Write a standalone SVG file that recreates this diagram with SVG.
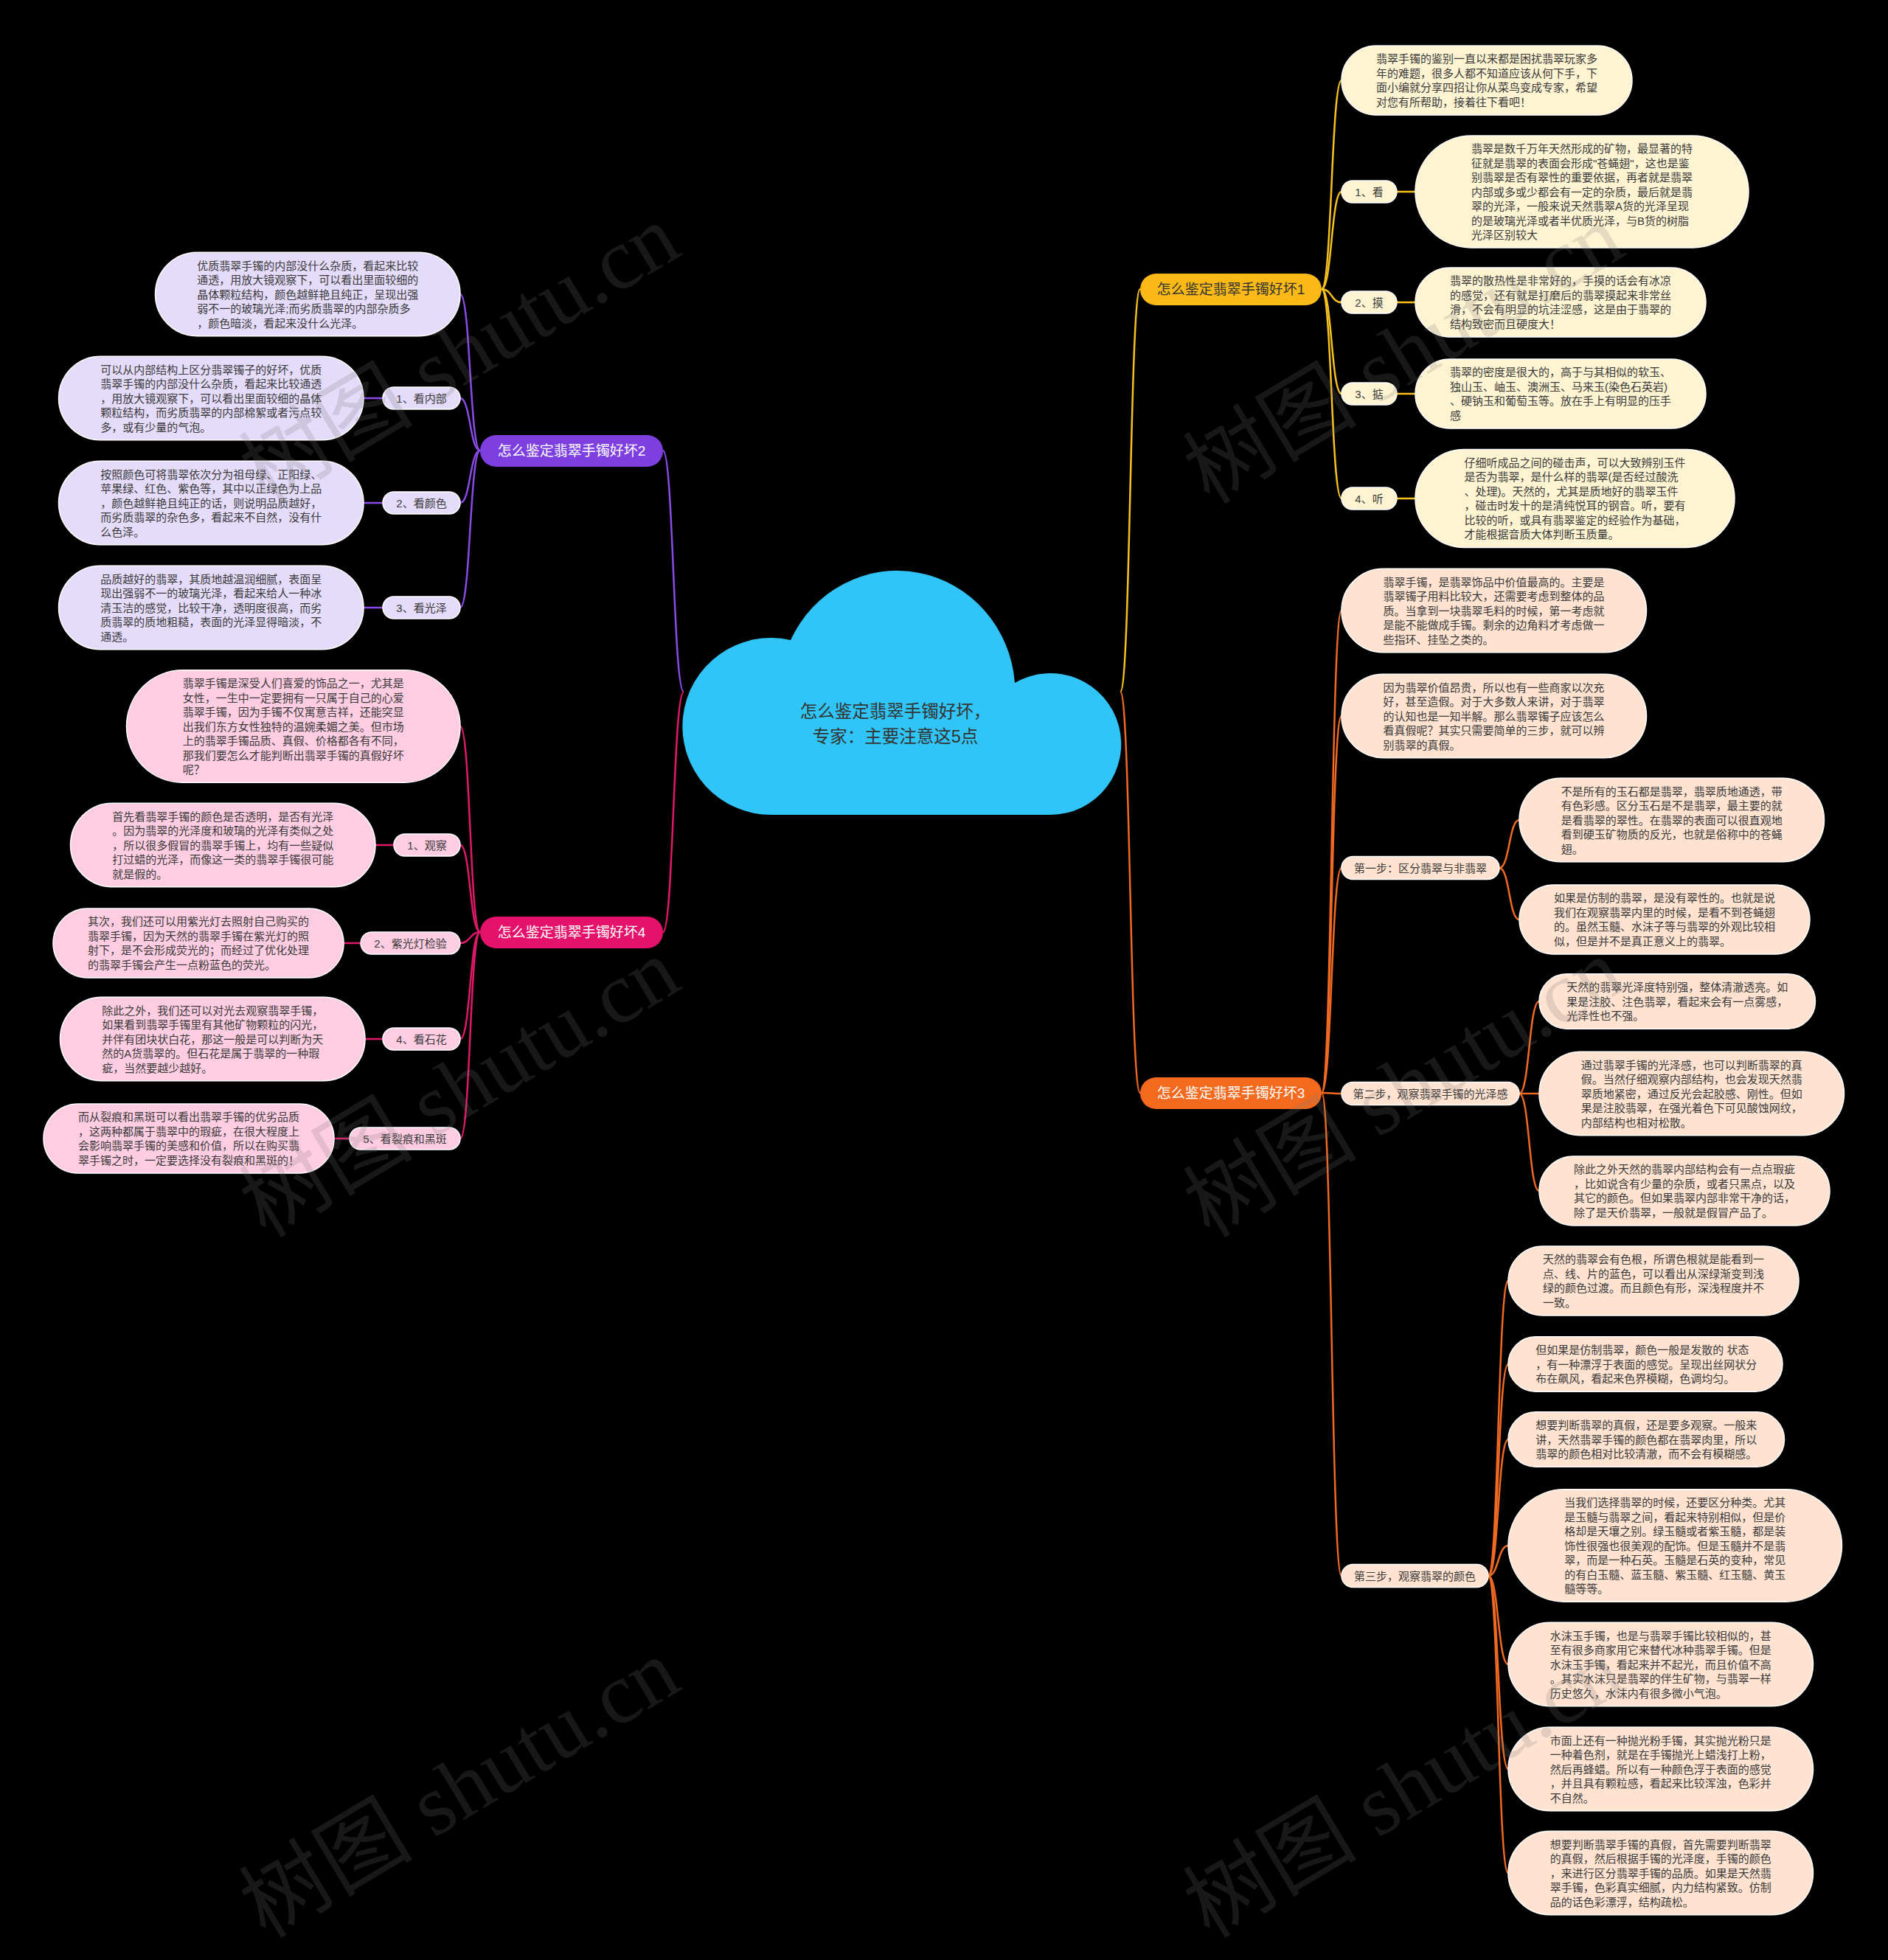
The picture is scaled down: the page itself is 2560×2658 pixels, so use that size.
<svg xmlns="http://www.w3.org/2000/svg" width="2560" height="2658" viewBox="0 0 2560 2658">
<style>
text{font-family:"Liberation Sans","Noto Sans CJK SC",sans-serif}
.t{font-size:15px;fill:#3a3a3a}
.m{text-anchor:middle}
.nt{font-size:19px;text-anchor:middle}
.b1{fill:#FFF4D2;stroke:#fff;stroke-width:1.5}
.b2{fill:#E5DBFA;stroke:#fff;stroke-width:1.5}
.b3{fill:#FFE2D0;stroke:#fff;stroke-width:1.5}
.b4{fill:#FFCDE2;stroke:#fff;stroke-width:1.5}
.k1{fill:none;stroke:#F7C21E;stroke-width:2.5}
.k2{fill:none;stroke:#8A4AE6;stroke-width:2.5}
.k3{fill:none;stroke:#F06A22;stroke-width:2.5}
.k4{fill:none;stroke:#E0196A;stroke-width:2.5}
.wm{font-family:"Liberation Serif","Noto Sans CJK SC",serif;font-size:118px;fill:#787878;opacity:0.2}
</style>
<rect width="2560" height="2658" fill="#000"/>

<g id="connectors">
<path class="k1" d="M1519 938 C1533 938 1532 392 1546 392"/>
<path class="k3" d="M1519 938 C1533 938 1532 1482 1546 1482"/>
<path class="k2" d="M927 938 C913 938 913 611 899 611"/>
<path class="k4" d="M927 938 C913 938 913 1264 899 1264"/>
<path class="k1" d="M1792 392 C1806 392 1805 109 1819 109"/>
<path class="k1" d="M1792 392 C1806 392 1805 260 1819 260"/>
<path class="k1" d="M1792 392 C1806 392 1805 410 1819 410"/>
<path class="k1" d="M1792 392 C1806 392 1805 534 1819 534"/>
<path class="k1" d="M1792 392 C1806 392 1805 676 1819 676"/>
<path class="k1" d="M1894 260 H1919 M1894 410 H1919 M1894 534 H1919 M1894 676 H1919"/>
<path class="k3" d="M1792 1482 C1806 1482 1805 828 1819 828"/>
<path class="k3" d="M1792 1482 C1806 1482 1805 971 1819 971"/>
<path class="k3" d="M1792 1482 C1806 1482 1805 1177 1819 1177"/>
<path class="k3" d="M1792 1482 C1806 1482 1805 1483 1819 1483"/>
<path class="k3" d="M1792 1482 C1806 1482 1805 2137 1819 2137"/>
<path class="k3" d="M2033 1177 C2047 1177 2046 1112 2060 1112"/>
<path class="k3" d="M2033 1177 C2047 1177 2046 1247 2060 1247"/>
<path class="k3" d="M2060 1483 C2074 1483 2073 1358 2087 1358"/>
<path class="k3" d="M2060 1483 C2074 1483 2073 1483 2087 1483"/>
<path class="k3" d="M2060 1483 C2074 1483 2073 1615 2087 1615"/>
<path class="k3" d="M2018 2137 C2032 2137 2031 1737 2045 1737"/>
<path class="k3" d="M2018 2137 C2032 2137 2031 1850 2045 1850"/>
<path class="k3" d="M2018 2137 C2032 2137 2031 1952 2045 1952"/>
<path class="k3" d="M2018 2137 C2032 2137 2031 2096 2045 2096"/>
<path class="k3" d="M2018 2137 C2032 2137 2031 2257 2045 2257"/>
<path class="k3" d="M2018 2137 C2032 2137 2031 2399 2045 2399"/>
<path class="k3" d="M2018 2137 C2032 2137 2031 2540 2045 2540"/>
<path class="k2" d="M651 611 C637 611 638 399 624 399"/>
<path class="k2" d="M651 611 C637 611 638 540 624 540"/>
<path class="k2" d="M651 611 C637 611 638 682 624 682"/>
<path class="k2" d="M651 611 C637 611 638 824 624 824"/>
<path class="k2" d="M519 540 H493 M519 682 H493 M519 824 H493"/>
<path class="k4" d="M651 1264 C637 1264 638 985 624 985"/>
<path class="k4" d="M651 1264 C637 1264 638 1146 624 1146"/>
<path class="k4" d="M651 1264 C637 1264 638 1279 624 1279"/>
<path class="k4" d="M651 1264 C637 1264 638 1409 624 1409"/>
<path class="k4" d="M651 1264 C637 1264 638 1544 624 1544"/>
<path class="k4" d="M534 1146 H509 M489 1279 H466 M519 1409 H495 M474 1544 H453"/>
</g>

<g id="root">
<path d="M1047 1105 A120 120 0 1 1 1072 868 A160 165 0 0 1 1376 926 A96 96 0 1 1 1424 1105 Z" fill="#30C5F6"/>
<text x="1214" y="973" style="font-size:23.5px;fill:#333" class="m">怎么鉴定翡翠手镯好坏，</text>
<text x="1214" y="1007" style="font-size:23.5px;fill:#333" class="m">专家：主要注意这5点</text>
</g>

<g id="n1">
<rect x="1546" y="371" width="246" height="43" rx="21.5" fill="#FBB917"/>
<text x="1669" y="399" class="nt" fill="#333">怎么鉴定翡翠手镯好坏1</text>
</g>
<g id="n2">
<rect x="651" y="590" width="248" height="43" rx="21.5" fill="#7E3FE0"/>
<text x="775" y="618" class="nt" fill="#fff">怎么鉴定翡翠手镯好坏2</text>
</g>
<g id="n3">
<rect x="1546" y="1461" width="246" height="43" rx="21.5" fill="#F36A1E"/>
<text x="1669" y="1489" class="nt" fill="#fff">怎么鉴定翡翠手镯好坏3</text>
</g>
<g id="n4">
<rect x="651" y="1243" width="248" height="43" rx="21.5" fill="#E5126B"/>
<text x="775" y="1271" class="nt" fill="#fff">怎么鉴定翡翠手镯好坏4</text>
</g>

<!-- Branch 1 -->
<g id="n1a">
<rect class="b1" x="1819" y="62" width="394" height="94" rx="47"/>
<text class="t"><tspan x="1866" y="85.25">翡翠手镯的鉴别一直以来都是困扰翡翠玩家多</tspan><tspan x="1866" y="104.75">年的难题，很多人都不知道应该从何下手，下</tspan><tspan x="1866" y="124.25">面小编就分享四招让你从菜鸟变成专家，希望</tspan><tspan x="1866" y="143.75">对您有所帮助，接着往下看吧！</tspan></text>
</g>
<g id="n1b">
<rect class="b1" x="1819" y="245" width="75" height="30" rx="15"/>
<text class="t m" x="1856.5" y="265.5">1、看</text>
</g>
<g id="n1b1">
<rect class="b1" x="1919" y="184" width="452" height="152" rx="76"/>
<text class="t"><tspan x="1995" y="207.25">翡翠是数千万年天然形成的矿物，最显著的特</tspan><tspan x="1995" y="226.75">征就是翡翠的表面会形成"苍蝇翅"，这也是鉴</tspan><tspan x="1995" y="246.25">别翡翠是否有翠性的重要依据，再者就是翡翠</tspan><tspan x="1995" y="265.75">内部或多或少都会有一定的杂质，最后就是翡</tspan><tspan x="1995" y="285.25">翠的光泽，一般来说天然翡翠A货的光泽呈现</tspan><tspan x="1995" y="304.75">的是玻璃光泽或者半优质光泽，与B货的树脂</tspan><tspan x="1995" y="324.25">光泽区别较大</tspan></text>
</g>
<g id="n1c">
<rect class="b1" x="1819" y="395" width="75" height="30" rx="15"/>
<text class="t m" x="1856.5" y="415.5">2、摸</text>
</g>
<g id="n1c1">
<rect class="b1" x="1919" y="363" width="394" height="94" rx="47"/>
<text class="t"><tspan x="1966" y="386.25">翡翠的散热性是非常好的，手摸的话会有冰凉</tspan><tspan x="1966" y="405.75">的感觉，还有就是打磨后的翡翠摸起来非常丝</tspan><tspan x="1966" y="425.25">滑，不会有明显的坑洼涩感，这是由于翡翠的</tspan><tspan x="1966" y="444.75">结构致密而且硬度大！</tspan></text>
</g>
<g id="n1d">
<rect class="b1" x="1819" y="519" width="75" height="30" rx="15"/>
<text class="t m" x="1856.5" y="539.5">3、掂</text>
</g>
<g id="n1d1">
<rect class="b1" x="1919" y="487" width="394" height="94" rx="47"/>
<text class="t"><tspan x="1966" y="510.25">翡翠的密度是很大的，高于与其相似的软玉、</tspan><tspan x="1966" y="529.75">独山玉、岫玉、澳洲玉、马来玉(染色石英岩)</tspan><tspan x="1966" y="549.25">、硬钠玉和葡萄玉等。放在手上有明显的压手</tspan><tspan x="1966" y="568.75">感</tspan></text>
</g>
<g id="n1e">
<rect class="b1" x="1819" y="661" width="75" height="30" rx="15"/>
<text class="t m" x="1856.5" y="681.5">4、听</text>
</g>
<g id="n1e1">
<rect class="b1" x="1919" y="609.5" width="433" height="133" rx="66.5"/>
<text class="t"><tspan x="1985.5" y="632.75">仔细听成品之间的碰击声，可以大致辨别玉件</tspan><tspan x="1985.5" y="652.25">是否为翡翠，是什么样的翡翠(是否经过酸洗</tspan><tspan x="1985.5" y="671.75">、处理)。天然的，尤其是质地好的翡翠玉件</tspan><tspan x="1985.5" y="691.25">，碰击时发十的是清纯悦耳的钢音。听，要有</tspan><tspan x="1985.5" y="710.75">比较的听，或具有翡翠鉴定的经验作为基础，</tspan><tspan x="1985.5" y="730.25">才能根据音质大体判断玉质量。</tspan></text>
</g>

<!-- Branch 3 -->
<g id="n3a">
<rect class="b3" x="1819" y="771.25" width="413.5" height="113.5" rx="56.75"/>
<text class="t"><tspan x="1875.5" y="794.5">翡翠手镯，是翡翠饰品中价值最高的。主要是</tspan><tspan x="1875.5" y="814">翡翠镯子用料比较大，还需要考虑到整体的品</tspan><tspan x="1875.5" y="833.5">质。当拿到一块翡翠毛料的时候，第一考虑就</tspan><tspan x="1875.5" y="853">是能不能做成手镯。剩余的边角料才考虑做一</tspan><tspan x="1875.5" y="872.5">些指环、挂坠之类的。</tspan></text>
</g>
<g id="n3b">
<rect class="b3" x="1819" y="914.25" width="413.5" height="113.5" rx="56.75"/>
<text class="t"><tspan x="1875.5" y="937.5">因为翡翠价值昂贵，所以也有一些商家以次充</tspan><tspan x="1875.5" y="957">好，甚至造假。对于大多数人来讲，对于翡翠</tspan><tspan x="1875.5" y="976.5">的认知也是一知半解。那么翡翠镯子应该怎么</tspan><tspan x="1875.5" y="996">看真假呢？其实只需要简单的三步，就可以辨</tspan><tspan x="1875.5" y="1015.5">别翡翠的真假。</tspan></text>
</g>
<g id="n3c">
<rect class="b3" x="1819" y="1161.5" width="214" height="31" rx="15.5"/>
<text class="t m" x="1926" y="1182.5">第一步：区分翡翠与非翡翠</text>
</g>
<g id="n3c1">
<rect class="b3" x="2060" y="1055.25" width="413.5" height="113.5" rx="56.75"/>
<text class="t"><tspan x="2116.75" y="1078.5">不是所有的玉石都是翡翠，翡翠质地通透，带</tspan><tspan x="2116.75" y="1098">有色彩感。区分玉石是不是翡翠，最主要的就</tspan><tspan x="2116.75" y="1117.5">是看翡翠的翠性。在翡翠的表面可以很直观地</tspan><tspan x="2116.75" y="1137">看到硬玉矿物质的反光，也就是俗称中的苍蝇</tspan><tspan x="2116.75" y="1156.5">翅。</tspan></text>
</g>
<g id="n3c2">
<rect class="b3" x="2060" y="1200" width="394" height="94" rx="47"/>
<text class="t"><tspan x="2107" y="1223.25">如果是仿制的翡翠，是没有翠性的。也就是说</tspan><tspan x="2107" y="1242.75">我们在观察翡翠内里的时候，是看不到苍蝇翅</tspan><tspan x="2107" y="1262.25">的。虽然玉髓、水沫子等与翡翠的外观比较相</tspan><tspan x="2107" y="1281.75">似，但是并不是真正意义上的翡翠。</tspan></text>
</g>
<g id="n3d">
<rect class="b3" x="1819" y="1467.5" width="241" height="31" rx="15.5"/>
<text class="t m" x="1939.5" y="1488.5">第二步，观察翡翠手镯的光泽感</text>
</g>
<g id="n3d1">
<rect class="b3" x="2087" y="1320.75" width="374.5" height="74.5" rx="37.25"/>
<text class="t"><tspan x="2124.25" y="1344">天然的翡翠光泽度特别强，整体清澈透亮。如</tspan><tspan x="2124.25" y="1363.5">果是注胶、注色翡翠，看起来会有一点雾感，</tspan><tspan x="2124.25" y="1383">光泽性也不强。</tspan></text>
</g>
<g id="n3d2">
<rect class="b3" x="2087" y="1426.25" width="413.5" height="113.5" rx="56.75"/>
<text class="t"><tspan x="2143.75" y="1449.5">通过翡翠手镯的光泽感，也可以判断翡翠的真</tspan><tspan x="2143.75" y="1469">假。当然仔细观察内部结构，也会发现天然翡</tspan><tspan x="2143.75" y="1488.5">翠质地紧密，通过反光会起胶感、刚性。但如</tspan><tspan x="2143.75" y="1508">果是注胶翡翠，在强光着色下可见酸蚀网纹，</tspan><tspan x="2143.75" y="1527.5">内部结构也相对松散。</tspan></text>
</g>
<g id="n3d3">
<rect class="b3" x="2087" y="1568" width="394" height="94" rx="47"/>
<text class="t"><tspan x="2134" y="1591.25">除此之外天然的翡翠内部结构会有一点点瑕疵</tspan><tspan x="2134" y="1610.75">，比如说含有少量的杂质，或者只黑点，以及</tspan><tspan x="2134" y="1630.25">其它的颜色。但如果翡翠内部非常干净的话，</tspan><tspan x="2134" y="1649.75">除了是天价翡翠，一般就是假冒产品了。</tspan></text>
</g>
<g id="n3e">
<rect class="b3" x="1819" y="2121.5" width="199" height="31" rx="15.5"/>
<text class="t m" x="1918.5" y="2142.5">第三步，观察翡翠的颜色</text>
</g>
<g id="n3e1">
<rect class="b3" x="2045" y="1690" width="394" height="94" rx="47"/>
<text class="t"><tspan x="2092" y="1713.25">天然的翡翠会有色根，所谓色根就是能看到一</tspan><tspan x="2092" y="1732.75">点、线、片的蓝色，可以看出从深绿渐变到浅</tspan><tspan x="2092" y="1752.25">绿的颜色过渡。而且颜色有形，深浅程度并不</tspan><tspan x="2092" y="1771.75">一致。</tspan></text>
</g>
<g id="n3e2">
<rect class="b3" x="2045" y="1812.75" width="372" height="74.5" rx="37.25"/>
<text class="t"><tspan x="2082.25" y="1836">但如果是仿制翡翠，颜色一般是发散的 状态</tspan><tspan x="2082.25" y="1855.5">，有一种漂浮于表面的感觉。呈现出丝网状分</tspan><tspan x="2082.25" y="1875">布在飙风，看起来色界模糊，色调均匀。</tspan></text>
</g>
<g id="n3e3">
<rect class="b3" x="2045" y="1914.75" width="374.5" height="74.5" rx="37.25"/>
<text class="t"><tspan x="2082.25" y="1938">想要判断翡翠的真假，还是要多观察。一般来</tspan><tspan x="2082.25" y="1957.5">讲，天然翡翠手镯的颜色都在翡翠肉里，所以</tspan><tspan x="2082.25" y="1977">翡翠的颜色相对比较清澈，而不会有模糊感。</tspan></text>
</g>
<g id="n3e4">
<rect class="b3" x="2045" y="2019.75" width="452.5" height="152.5" rx="76.25"/>
<text class="t"><tspan x="2121.25" y="2043">当我们选择翡翠的时候，还要区分种类。尤其</tspan><tspan x="2121.25" y="2062.5">是玉髓与翡翠之间，看起来特别相似，但是价</tspan><tspan x="2121.25" y="2082">格却是天壤之别。绿玉髓或者紫玉髓，都是装</tspan><tspan x="2121.25" y="2101.5">饰性很强也很美观的配饰。但是玉髓并不是翡</tspan><tspan x="2121.25" y="2121">翠，而是一种石英。玉髓是石英的变种，常见</tspan><tspan x="2121.25" y="2140.5">的有白玉髓、蓝玉髓、紫玉髓、红玉髓、黄玉</tspan><tspan x="2121.25" y="2160">髓等等。</tspan></text>
</g>
<g id="n3e5">
<rect class="b3" x="2045" y="2200.25" width="413.5" height="113.5" rx="56.75"/>
<text class="t"><tspan x="2101.75" y="2223.5">水沫玉手镯，也是与翡翠手镯比较相似的，甚</tspan><tspan x="2101.75" y="2243">至有很多商家用它来替代冰种翡翠手镯。但是</tspan><tspan x="2101.75" y="2262.5">水沫玉手镯，看起来并不起光，而且价值不高</tspan><tspan x="2101.75" y="2282">。其实水沫只是翡翠的伴生矿物，与翡翠一样</tspan><tspan x="2101.75" y="2301.5">历史悠久，水沫内有很多微小气泡。</tspan></text>
</g>
<g id="n3e6">
<rect class="b3" x="2045" y="2342.25" width="413.5" height="113.5" rx="56.75"/>
<text class="t"><tspan x="2101.75" y="2365.5">市面上还有一种抛光粉手镯，其实抛光粉只是</tspan><tspan x="2101.75" y="2385">一种着色剂，就是在手镯抛光上蜡浅打上粉，</tspan><tspan x="2101.75" y="2404.5">然后再蜂蜡。所以有一种颜色浮于表面的感觉</tspan><tspan x="2101.75" y="2424">，并且具有颗粒感，看起来比较浑浊，色彩并</tspan><tspan x="2101.75" y="2443.5">不自然。</tspan></text>
</g>
<g id="n3e7">
<rect class="b3" x="2045" y="2483.25" width="413.5" height="113.5" rx="56.75"/>
<text class="t"><tspan x="2101.75" y="2506.5">想要判断翡翠手镯的真假，首先需要判断翡翠</tspan><tspan x="2101.75" y="2526">的真假，然后根据手镯的光泽度，手镯的颜色</tspan><tspan x="2101.75" y="2545.5">，来进行区分翡翠手镯的品质。如果是天然翡</tspan><tspan x="2101.75" y="2565">翠手镯，色彩真实细腻，内力结构紧致。仿制</tspan><tspan x="2101.75" y="2584.5">品的话色彩漂浮，结构疏松。</tspan></text>
</g>

<!-- Branch 2 -->
<g id="n2a">
<rect class="b2" x="210.5" y="342.25" width="413.5" height="113.5" rx="56.75"/>
<text class="t"><tspan x="267.25" y="365.5">优质翡翠手镯的内部没什么杂质，看起来比较</tspan><tspan x="267.25" y="385">通透，用放大镜观察下，可以看出里面较细的</tspan><tspan x="267.25" y="404.5">晶体颗粒结构，颜色越鲜艳且纯正，呈现出强</tspan><tspan x="267.25" y="424">弱不一的玻璃光泽;而劣质翡翠的内部杂质多</tspan><tspan x="267.25" y="443.5">，颜色暗淡，看起来没什么光泽。</tspan></text>
</g>
<g id="n2b">
<rect class="b2" x="519" y="525" width="105" height="30" rx="15"/>
<text class="t m" x="571.5" y="545.5">1、看内部</text>
</g>
<g id="n2b1">
<rect class="b2" x="79.5" y="483.25" width="413.5" height="113.5" rx="56.75"/>
<text class="t"><tspan x="136.25" y="506.5">可以从内部结构上区分翡翠镯子的好坏，优质</tspan><tspan x="136.25" y="526">翡翠手镯的内部没什么杂质，看起来比较通透</tspan><tspan x="136.25" y="545.5">，用放大镜观察下，可以看出里面较细的晶体</tspan><tspan x="136.25" y="565">颗粒结构，而劣质翡翠的内部棉絮或者污点较</tspan><tspan x="136.25" y="584.5">多，或有少量的气泡。</tspan></text>
</g>
<g id="n2c">
<rect class="b2" x="519" y="667" width="105" height="30" rx="15"/>
<text class="t m" x="571.5" y="687.5">2、看颜色</text>
</g>
<g id="n2c1">
<rect class="b2" x="79.5" y="625.25" width="413.5" height="113.5" rx="56.75"/>
<text class="t"><tspan x="136.25" y="648.5">按照颜色可将翡翠依次分为祖母绿、正阳绿、</tspan><tspan x="136.25" y="668">苹果绿、红色、紫色等，其中以正绿色为上品</tspan><tspan x="136.25" y="687.5">，颜色越鲜艳且纯正的话，则说明品质越好，</tspan><tspan x="136.25" y="707">而劣质翡翠的杂色多，看起来不自然，没有什</tspan><tspan x="136.25" y="726.5">么色泽。</tspan></text>
</g>
<g id="n2d">
<rect class="b2" x="519" y="809" width="105" height="30" rx="15"/>
<text class="t m" x="571.5" y="829.5">3、看光泽</text>
</g>
<g id="n2d1">
<rect class="b2" x="79.5" y="767.25" width="413.5" height="113.5" rx="56.75"/>
<text class="t"><tspan x="136.25" y="790.5">品质越好的翡翠，其质地越温润细腻，表面呈</tspan><tspan x="136.25" y="810">现出强弱不一的玻璃光泽，看起来给人一种冰</tspan><tspan x="136.25" y="829.5">清玉洁的感觉，比较干净，透明度很高，而劣</tspan><tspan x="136.25" y="849">质翡翠的质地粗糙，表面的光泽显得暗淡，不</tspan><tspan x="136.25" y="868.5">通透。</tspan></text>
</g>

<!-- Branch 4 -->
<g id="n4a">
<rect class="b4" x="171.5" y="908.75" width="452.5" height="152.5" rx="76.25"/>
<text class="t"><tspan x="247.75" y="932">翡翠手镯是深受人们喜爱的饰品之一，尤其是</tspan><tspan x="247.75" y="951.5">女性，一生中一定要拥有一只属于自己的心爱</tspan><tspan x="247.75" y="971">翡翠手镯，因为手镯不仅寓意吉祥，还能突显</tspan><tspan x="247.75" y="990.5">出我们东方女性独特的温婉柔媚之美。但市场</tspan><tspan x="247.75" y="1010">上的翡翠手镯品质、真假、价格都各有不同，</tspan><tspan x="247.75" y="1029.5">那我们要怎么才能判断出翡翠手镯的真假好坏</tspan><tspan x="247.75" y="1049">呢？</tspan></text>
</g>
<g id="n4b">
<rect class="b4" x="534" y="1131" width="90" height="30" rx="15"/>
<text class="t m" x="579" y="1151.5">1、观察</text>
</g>
<g id="n4b1">
<rect class="b4" x="95.5" y="1089.25" width="413.5" height="113.5" rx="56.75"/>
<text class="t"><tspan x="152.25" y="1112.5">首先看翡翠手镯的颜色是否透明，是否有光泽</tspan><tspan x="152.25" y="1132">。因为翡翠的光泽度和玻璃的光泽有类似之处</tspan><tspan x="152.25" y="1151.5">，所以很多假冒的翡翠手镯上，均有一些疑似</tspan><tspan x="152.25" y="1171">打过蜡的光泽，而像这一类的翡翠手镯很可能</tspan><tspan x="152.25" y="1190.5">就是假的。</tspan></text>
</g>
<g id="n4c">
<rect class="b4" x="489" y="1264" width="135" height="30" rx="15"/>
<text class="t m" x="556.5" y="1284.5">2、紫光灯检验</text>
</g>
<g id="n4c1">
<rect class="b4" x="72" y="1232" width="394" height="94" rx="47"/>
<text class="t"><tspan x="119" y="1255.25">其次，我们还可以用紫光灯去照射自己购买的</tspan><tspan x="119" y="1274.75">翡翠手镯，因为天然的翡翠手镯在紫光灯的照</tspan><tspan x="119" y="1294.25">射下，是不会形成荧光的；而经过了优化处理</tspan><tspan x="119" y="1313.75">的翡翠手镯会产生一点粉蓝色的荧光。</tspan></text>
</g>
<g id="n4d">
<rect class="b4" x="519" y="1394" width="105" height="30" rx="15"/>
<text class="t m" x="571.5" y="1414.5">4、看石花</text>
</g>
<g id="n4d1">
<rect class="b4" x="81.5" y="1352.25" width="413.5" height="113.5" rx="56.75"/>
<text class="t"><tspan x="138.25" y="1375.5">除此之外，我们还可以对光去观察翡翠手镯，</tspan><tspan x="138.25" y="1395">如果看到翡翠手镯里有其他矿物颗粒的闪光，</tspan><tspan x="138.25" y="1414.5">并伴有团块状白花，那这一般是可以判断为天</tspan><tspan x="138.25" y="1434">然的A货翡翠的。但石花是属于翡翠的一种瑕</tspan><tspan x="138.25" y="1453.5">疵，当然要越少越好。</tspan></text>
</g>
<g id="n4e">
<rect class="b4" x="474" y="1529" width="150" height="30" rx="15"/>
<text class="t m" x="549" y="1549.5">5、看裂痕和黑斑</text>
</g>
<g id="n4e1">
<rect class="b4" x="59" y="1497" width="394" height="94" rx="47"/>
<text class="t"><tspan x="106" y="1520.25">而从裂痕和黑斑可以看出翡翠手镯的优劣品质</tspan><tspan x="106" y="1539.75">，这两种都属于翡翠中的瑕疵，在很大程度上</tspan><tspan x="106" y="1559.25">会影响翡翠手镯的美感和价值，所以在购买翡</tspan><tspan x="106" y="1578.75">翠手镯之时，一定要选择没有裂痕和黑斑的！</tspan></text>
</g>

<g id="watermarks">
<text class="wm" x="360" y="685" transform="rotate(-31 360 685)">树图 shutu.cn</text>
<text class="wm" x="360" y="1680" transform="rotate(-31 360 1680)">树图 shutu.cn</text>
<text class="wm" x="360" y="2630" transform="rotate(-31 360 2630)">树图 shutu.cn</text>
<text class="wm" x="1640" y="685" transform="rotate(-31 1640 685)">树图 shutu.cn</text>
<text class="wm" x="1640" y="1680" transform="rotate(-31 1640 1680)">树图 shutu.cn</text>
<text class="wm" x="1640" y="2630" transform="rotate(-31 1640 2630)">树图 shutu.cn</text>
</g>
</svg>
